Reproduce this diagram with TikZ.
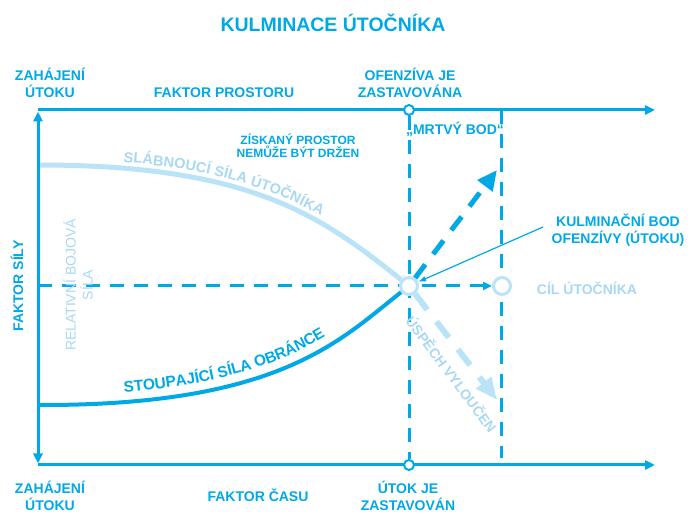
\documentclass[tikz,border=0pt]{standalone}
\usepackage{fontspec}
\setmainfont{Liberation Sans}
\usetikzlibrary{arrows.meta}
\usetikzlibrary{decorations.text}
\pgfdeclarelayer{background}
\pgfsetlayers{background,main}
\definecolor{cblue}{RGB}{0,169,230}
\definecolor{lblue}{RGB}{187,227,247}
\definecolor{ptext}{RGB}{168,216,242}

\begin{document}
\begin{tikzpicture}
     [x=1pt,y=1pt,line cap=butt,
      % Styles
        axis/.style={cblue,line width=3pt},
        grid line/.style={cblue,line width=3pt,dash pattern=on 14pt off 10pt},
        strong line/.style={cblue,line width=4pt},
        weak line/.style={lblue,line width=5pt},
        strong dash/.style={cblue,line width=5pt,dash pattern=on 17pt off 13pt,-{Triangle[length=20pt,width=18pt]}},
        weak dash/.style={lblue,line width=6pt,dash pattern=on 20pt off 15pt,-{Triangle[length=22pt,width=18pt]}},
        label text/.style={cblue,font=\bfseries\fontsize{14}{17.5}\selectfont,align=center,inner sep=0pt},
        pale text/.style={label text,ptext},
        open point/.style={circle,draw=cblue,fill=white,line width=2pt,minimum size=10pt,inner sep=0pt},
        big point/.style={circle,draw=lblue,fill=white,line width=3pt,minimum size=17pt,inner sep=0pt}]
    \useasboundingbox (0,0) rectangle (691,514);

    \node[label text,font=\bfseries\fontsize{19.5}{20}\selectfont,anchor=base] (title) at (333,482) {KULMINACE ÚTOČNÍKA};

    % axes
    \draw[axis,-{Triangle[length=10pt,width=9pt]}] (38,404) -- (655,404);
    \draw[axis,-{Triangle[length=10pt,width=9pt]}] (38,49) -- (655,49);
    \draw[axis,{Triangle[length=10pt,width=9pt]}-{Triangle[length=10pt,width=9pt]}] (38,402.5) -- (38,50.5);

    % points
    \node[open point] (top stop) at (409,404) {};
    \node[open point] (bottom stop) at (409,49) {};
    \node[big point] (kulm) at (409,228) {};
    \node[big point] (goal) at (502,228) {};
    \coordinate (dead top) at (501,404);
    \coordinate (dead end) at (501,56);
    \coordinate (force mid) at (38,228);

    % labels
    \node[label text] (start top) at (50,431) {ZAHÁJENÍ\\ÚTOKU};
    \node[label text,anchor=base] (space) at (224,416) {FAKTOR PROSTORU};
    \node[label text] (halt top) at (410,431) {OFENZÍVA JE\\ZASTAVOVÁNA};
    \node[label text,anchor=base] (dead) at (455,379) {„MRTVÝ BOD“};
    \node[label text,font=\bfseries\fontsize{12}{12.8}\selectfont] (held) at (298,368) {ZÍSKANÝ PROSTOR\\NEMŮŽE BÝT DRŽEN};
    \node[label text] (kulm text) at (618,284) {KULMINAČNÍ BOD\\OFENZÍVY (ÚTOKU)};
    \node[pale text,anchor=base] (goal text) at (587,219) {CÍL ÚTOČNÍKA};
    \node[label text,rotate=90] (force) at (17,228) {FAKTOR SÍLY};
    \node[pale text,rotate=90,font=\fontsize{14}{17}\selectfont] (relative) at (78,229) {RELATIVNÍ BOJOVÁ\\SÍLA};
    \node[pale text,rotate=-53] (fail) at (452,140) {ÚSPĚCH VYLOUČEN};
    \node[label text] (start bottom) at (50,18) {ZAHÁJENÍ\\ÚTOKU};
    \node[label text,anchor=base] (time) at (258,12) {FAKTOR ČASU};
    \node[label text] (halt bottom) at (408,18) {ÚTOK JE\\ZASTAVOVÁN};
    \coordinate (kulm tail) at (543,287);

    \begin{pgfonlayer}{background}
      % dashed lines
      \draw[grid line] (top stop) -- (bottom stop);
      \draw[grid line] (dead top) -- (dead end);
      \draw[grid line,-{Triangle[length=9pt,width=8pt]}] (force mid) -- (goal);
      % the two forces
      \draw[weak line,postaction={decorate,decoration={text along path,text align={left indent=85pt},raise=6pt,text color=ptext,
            text={|\bfseries\fontsize{14.5}{14.5}\selectfont|SLÁBNOUCÍ SÍLA ÚTOČNÍKA}}}]
            (38,349) .. controls (250,349) and (320,299) .. (kulm);
      \draw[strong line,postaction={decorate,decoration={text along path,text align={left indent=87pt},raise=10pt,text color=cblue,
            text={|\bfseries\fontsize{15.5}{15.5}\selectfont|STOUPAJÍCÍ SÍLA OBRÁNCE}}}]
            (38,109) .. controls (280,108) and (340,174) .. (kulm);
      % after the culmination
      \draw[strong dash] (kulm) -- (497,344) coordinate (gain tip);
      \draw[weak dash] (kulm) -- (497,114) coordinate (loss tip);
    \end{pgfonlayer}
    \draw[cblue,line width=1.2pt,-{Triangle[length=7pt,width=5pt]},shorten >=1pt] (kulm tail) -- (kulm);
\end{tikzpicture}
\end{document}
